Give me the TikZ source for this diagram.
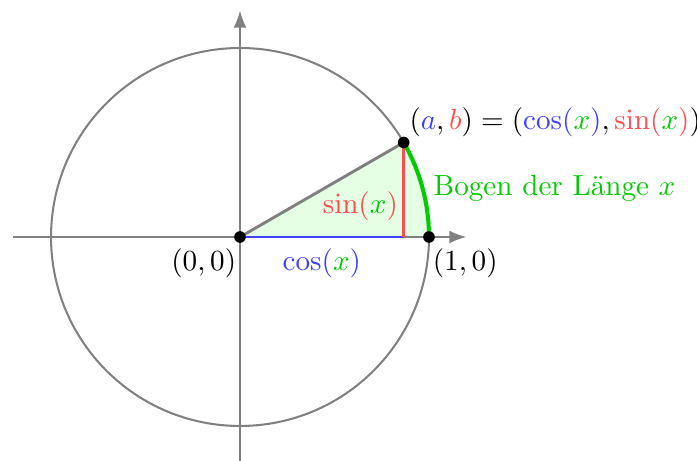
\documentclass[tikz,border=0pt]{standalone}
\usepackage{amsmath}
\usepackage{xcolor}
\usepackage{tikz}
\usetikzlibrary{arrows.meta,calc}

\colorlet{cosblue}{blue!75}
\colorlet{sinred}{red!70}
\colorlet{argreen}{green!80!black}

\begin{document}
\begin{tikzpicture}[x=2.28cm,y=2.28cm,line width=1pt]
    \useasboundingbox (-1.270,-1.185) rectangle (2.418,1.254);
    \coordinate (O) at (0,0);
    \coordinate (E) at (1,0);
    \coordinate (P) at (30:1);
    \coordinate (F) at (P |- O);
    \coordinate (xl) at (-1.2,0);
    \coordinate (xr) at (1.2,0);
    \coordinate (yb) at (0,-1.25);
    \coordinate (yt) at (0,1.2);
    \fill[green!10] (O) -- (E) arc[start angle=0,end angle=30,radius=1] -- cycle;
    \draw[gray,line width=0.7pt] (O) circle[radius=1];
    \draw[-{Latex[length=6pt,width=4.5pt]},gray] (xl) -- (xr);
    \draw[-{Latex[length=6pt,width=4.5pt]},gray] (yb) -- (yt);
    \draw[gray] (O) -- (P);
    \draw[cosblue] (O) -- (F) node[midway,below] (cosl) {$\cos(\textcolor{argreen}{x})$};
    \draw[sinred] (F) -- (P) node[pos=0.33,left,inner sep=1.5pt] (sinl) {$\sin(\textcolor{argreen}{x})$};
    \draw[argreen,line width=1.4pt] (E) arc[start angle=0,end angle=30,radius=1];
    \coordinate (M) at (15:1);
    \node[right,argreen] (bogen) at (M) {Bogen der L\"ange $x$};
    \foreach \p in {O,E,P} \fill (\p) circle[radius=2pt];
    \node[below left,xshift=2.5pt] (nullp) at (O) {$(0,0)$};
    \node[below right,xshift=-2.5pt] (einsp) at (E) {$(1,0)$};
    \node[above right,inner sep=1.5pt] (abp) at (P) {$(\textcolor{cosblue}{a},\textcolor{sinred}{b})=(\textcolor{cosblue}{\cos(\textcolor{argreen}{x})},\textcolor{sinred}{\sin(\textcolor{argreen}{x})})$};
\end{tikzpicture}
\end{document}
